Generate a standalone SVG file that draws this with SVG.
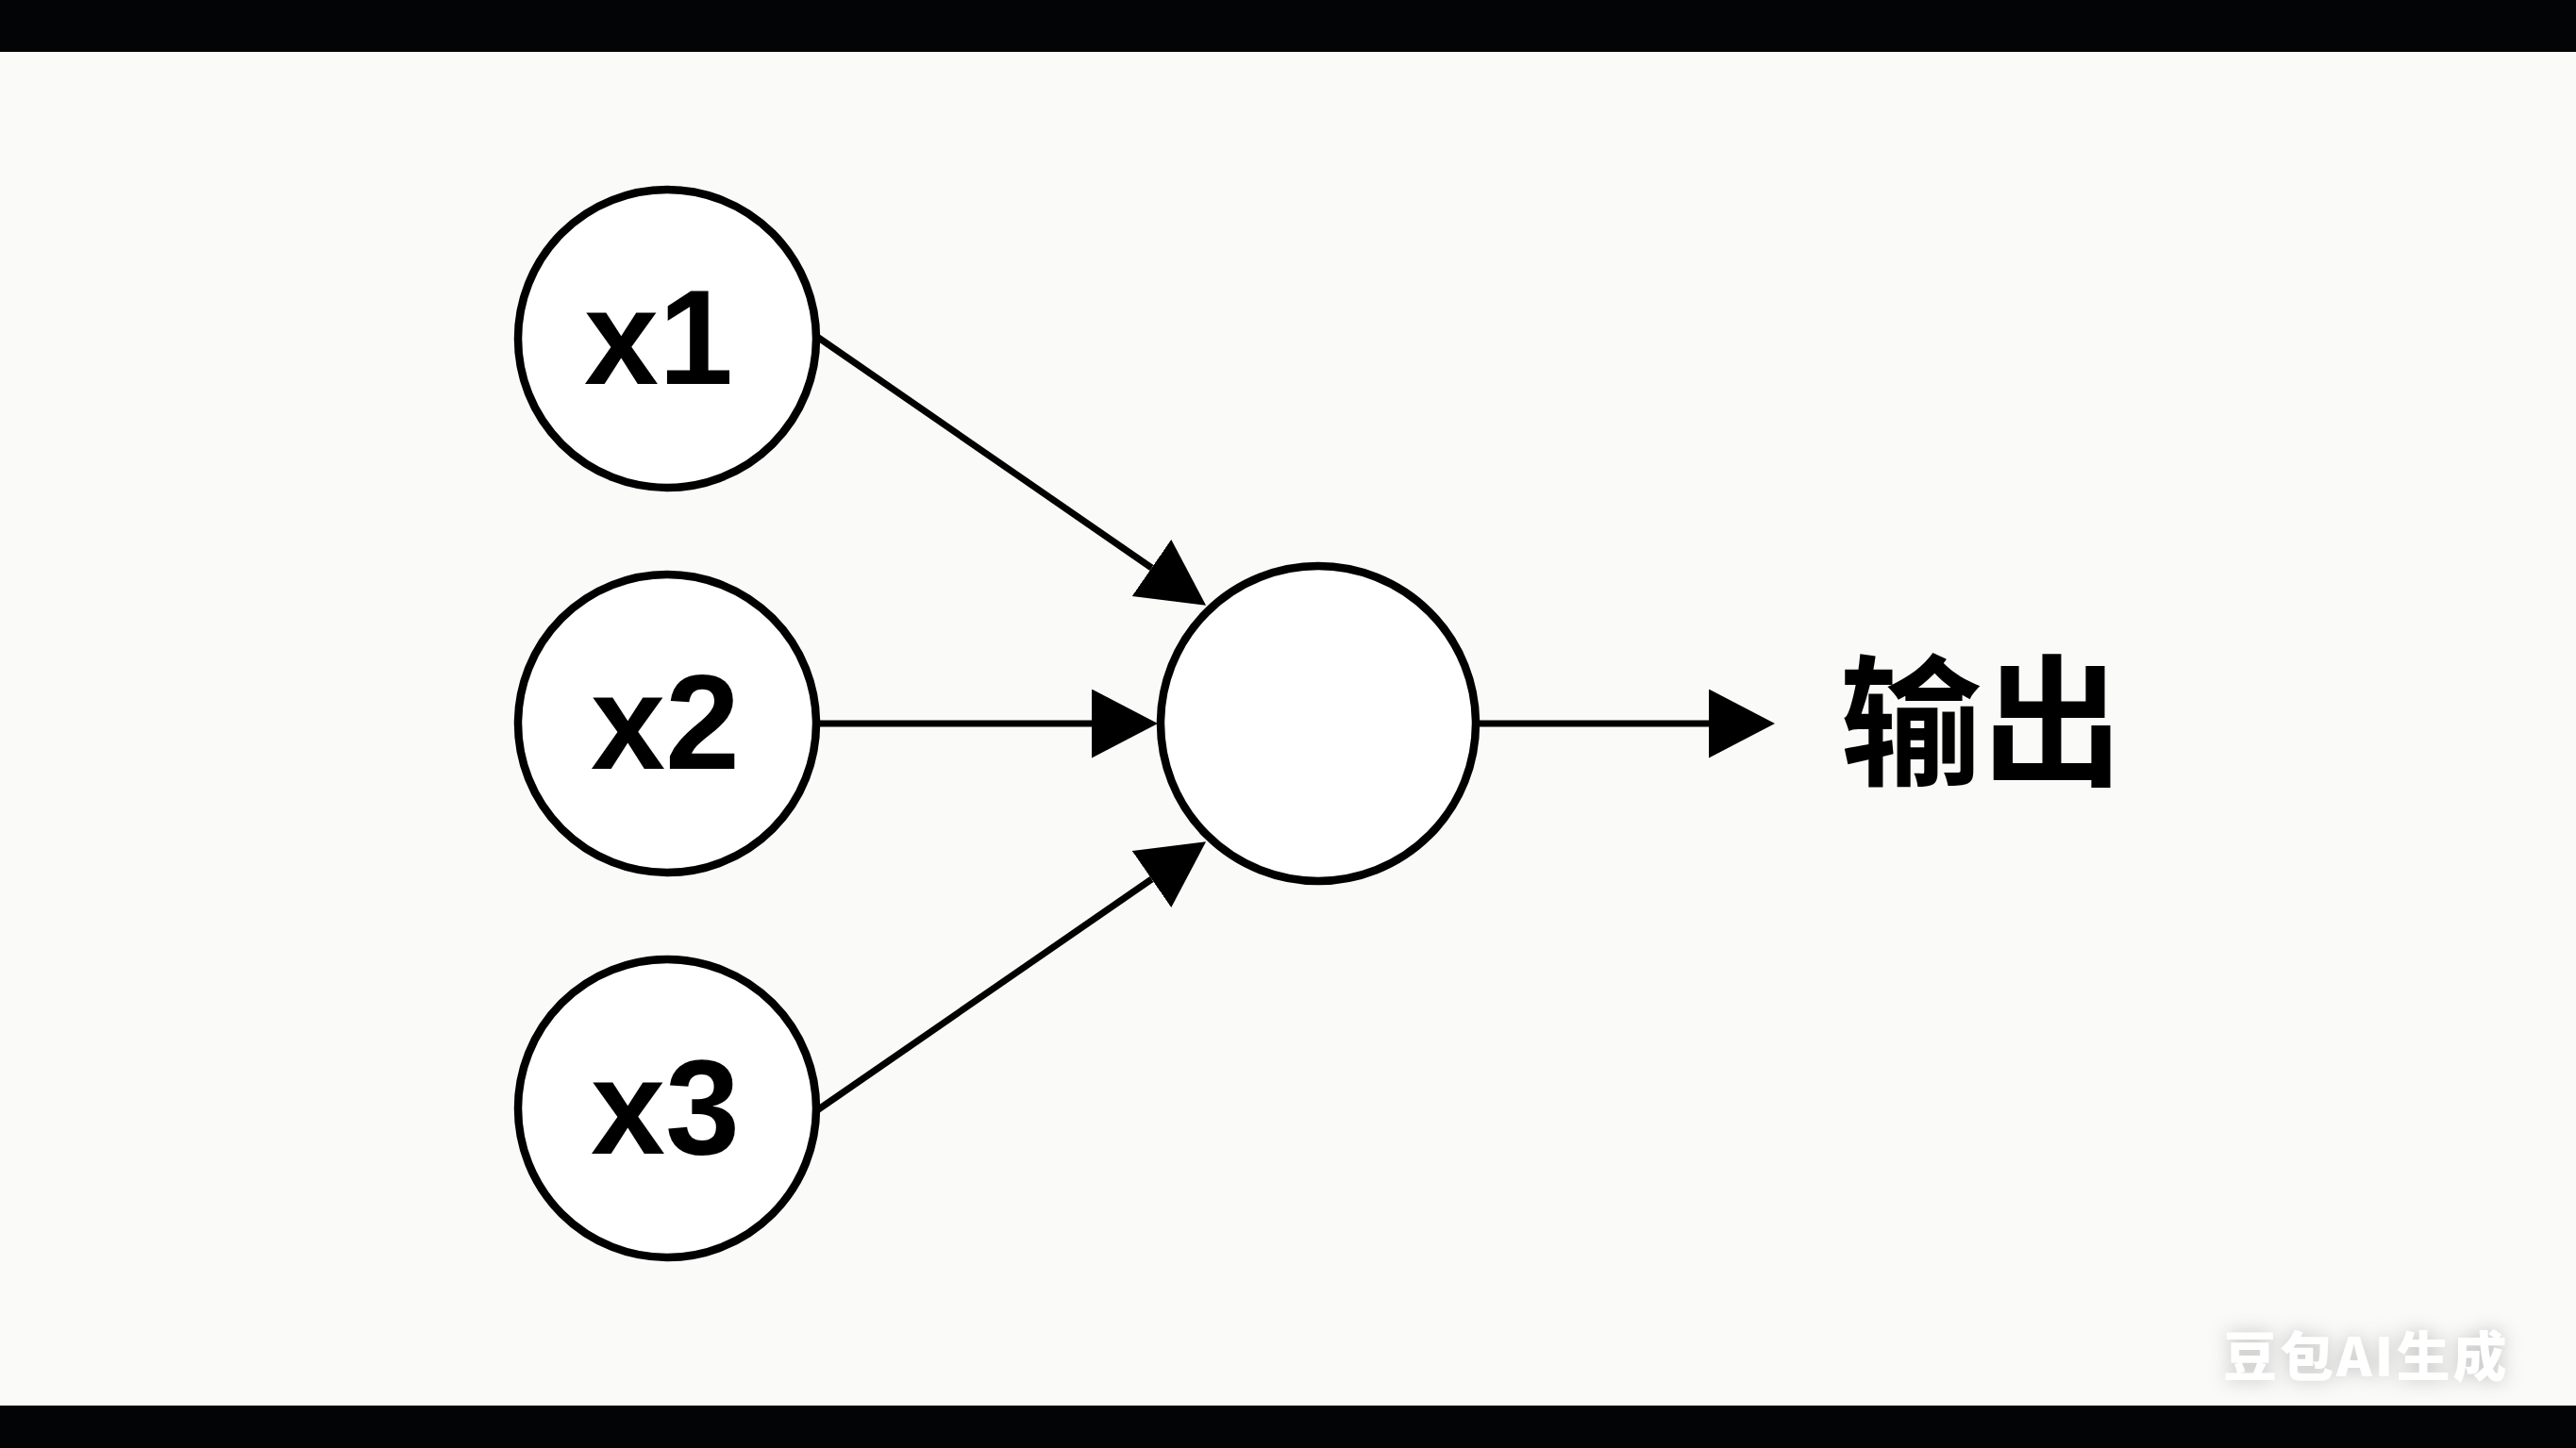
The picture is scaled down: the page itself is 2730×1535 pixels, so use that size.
<svg xmlns="http://www.w3.org/2000/svg" width="2730" height="1535" viewBox="0 0 2730 1535">
<defs>
<style>
.node{fill:#ffffff;stroke:#000000;stroke-width:8.5}
.lbl{font-family:"Liberation Sans",Arial,sans-serif;font-weight:bold;font-size:142px;fill:#000000;text-anchor:middle}
.conn{stroke:#000000;stroke-width:7;fill:none}
.out{font-family:"Noto Sans CJK SC","Noto Sans",sans-serif;font-weight:bold;font-size:150px;fill:#000000}
.wm{font-family:"Noto Sans CJK SC","Liberation Sans",sans-serif;font-weight:900;font-size:57px;letter-spacing:3px}
</style>
<marker id="ah" markerUnits="userSpaceOnUse" markerWidth="72" markerHeight="75" refX="0" refY="36.5" orient="auto">
<path d="M0,0 L70,36.5 L0,73 Z" fill="#000000"/>
</marker>
<filter id="blur" x="-20%" y="-50%" width="140%" height="200%"><feGaussianBlur stdDeviation="10"/></filter>
</defs>
<rect x="0" y="0" width="2730" height="1535" fill="#fafaf8"/>
<rect x="0" y="0" width="2730" height="55" fill="#030405"/>
<rect x="0" y="1490" width="2730" height="45" fill="#030405"/>
<g id="connectors">
<line class="conn" x1="866" y1="357" x2="1220.5" y2="602" marker-end="url(#ah)"/>
<line class="conn" x1="866" y1="767" x2="1157" y2="767" marker-end="url(#ah)"/>
<line class="conn" x1="866" y1="1177" x2="1220.5" y2="932" marker-end="url(#ah)"/>
<line class="conn" x1="1566" y1="767" x2="1811" y2="767" marker-end="url(#ah)"/>
</g>
<g id="node-x1">
<circle class="node" cx="707" cy="359" r="158"/>
<text class="lbl" x="698" y="407">x1</text>
</g>
<g id="node-x2">
<circle class="node" cx="707" cy="767" r="158"/>
<text class="lbl" x="705" y="815">x2</text>
</g>
<g id="node-x3">
<circle class="node" cx="707" cy="1175" r="158"/>
<text class="lbl" x="705" y="1223">x3</text>
</g>
<g id="node-sum">
<circle class="node" cx="1397" cy="767" r="167"/>
</g>
<g id="label-output">
<text class="out" x="1950" y="821">输出</text>
</g>
<g id="watermark">
<text class="wm" x="2356" y="1459" fill="#9a9a9a" opacity="0.6" filter="url(#blur)">豆包AI生成</text>
<text class="wm" x="2356" y="1459" fill="#ffffff">豆包AI生成</text>
</g>
</svg>
